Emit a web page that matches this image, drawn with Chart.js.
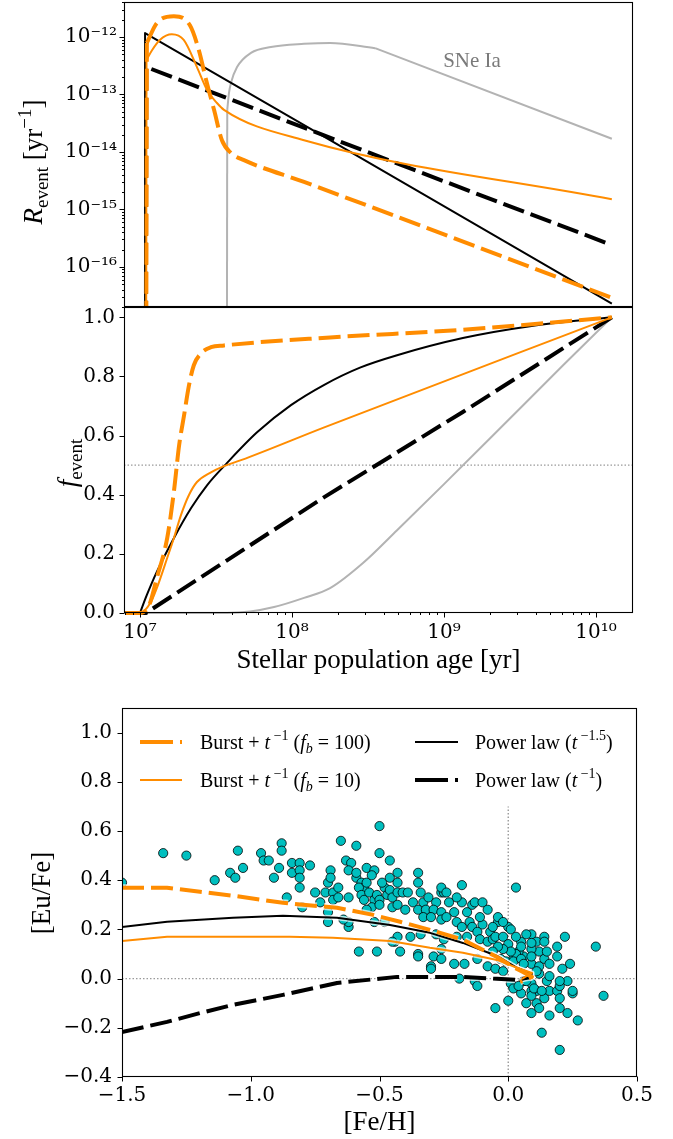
<!DOCTYPE html>
<html><head><meta charset="utf-8">
<script src="https://cdn.jsdelivr.net/npm/chart.js@4/dist/chart.umd.min.js"></script>
<style>
html,body{margin:0;padding:0;background:#fff;}
#wrap{position:relative;width:673px;height:1139px;overflow:hidden;background:#fff;}
canvas{position:absolute;left:0;}
</style></head><body>
<div id="wrap">
<canvas id="c1" width="673" height="310" style="top:0px"></canvas>
<canvas id="c2" width="673" height="380" style="top:300px"></canvas>
<canvas id="c3" width="673" height="449" style="top:690px"></canvas>
</div>
<script>
// ---------- Panel 1: event rate vs stellar population age ----------
const ageB100Top  = [1.095e7, 1.11e7, 1.29e7, 1.67e7, 2.13e7, 2.44e7, 2.72e7, 3.07e7, 3.46e7, 3.97e7, 4.83e7, 1.2e8, 1.27e10];
const rateB100Top = [1e-20, 7.9e-13, 1.75e-12, 2.3e-12, 1.6e-12, 5.9e-13, 1.8e-13, 5.4e-14, 1.6e-14, 9.6e-15, 7.2e-15, 3.0e-15, 2.9e-17];
const ageB10Top   = [1.095e7, 1.104e7, 1.2e7, 1.35e7, 1.62e7, 1.94e7, 2.37e7, 2.76e7, 3.21e7, 3.57e7, 1.2e8, 1.27e10];
const rateB10Top  = [1e-20, 4.0e-13, 5.9e-13, 8.9e-13, 1.12e-12, 8.9e-13, 3.0e-13, 1.2e-13, 7.1e-14, 5.4e-14, 1.6e-14, 1.5e-15];
const ageP15Top   = [1.079e7, 1.08e7, 1.78e8, 1.27e10];
const rateP15Top  = [1e-20, 1.17e-12, 1.6e-14, 2.3e-17];
const ageP1Top    = [1.09e7, 1.1e7, 4.91e8, 1.27e10];
const rateP1Top   = [1e-20, 3.0e-13, 6.3e-15, 2.4e-16];
const ageSNTop    = [3.72e7, 3.75e7, 3.85e7, 3.97e7, 4.35e7, 5.37e7, 7.27e7, 1.2e8, 1.78e8, 3.52e8, 1.27e10];
const rateSNTop   = [1e-20, 5.4e-14, 1.07e-13, 1.6e-13, 3.0e-13, 5.3e-13, 6.7e-13, 7.6e-13, 7.9e-13, 6.4e-13, 1.7e-14];
const topYTicks   = [1e-16, 1e-15, 1e-14, 1e-13, 1e-12];
const topYLabels  = ['10⁻¹⁶', '10⁻¹⁵', '10⁻¹⁴', '10⁻¹³', '10⁻¹²'];

// ---------- Panel 2: cumulative fraction ----------
const ageB100Mid = [8e6, 1.0e7, 1.15e7, 1.29e7, 1.51e7, 1.67e7, 1.81e7, 1.95e7, 2.10e7, 2.26e7, 2.52e7, 2.93e7, 3.57e7, 1.78e8, 1.33e9, 1.27e10];
const fB100      = [0, 0, 0.027, 0.118, 0.253, 0.409, 0.568, 0.669, 0.770, 0.838, 0.878, 0.899, 0.905, 0.932, 0.958, 1.0];
const ageB10Mid  = [8e6, 1.0e7, 1.18e7, 1.29e7, 1.51e7, 1.67e7, 1.86e7, 2.10e7, 2.37e7, 2.93e7, 3.57e7, 4.62e7, 1.63e8, 1.27e10];
const fB10       = [0, 0, 0.037, 0.084, 0.186, 0.253, 0.331, 0.399, 0.443, 0.476, 0.497, 0.517, 0.628, 1.0];
const ageP15Mid  = [8e6, 1.0e7, 1.11e7, 1.29e7, 1.67e7, 2.17e7, 2.76e7, 3.73e7, 5.89e7, 9.84e7, 1.63e8, 2.80e8, 4.91e8, 1.33e9, 3.68e9, 1.27e10];
const fP15       = [0, 0, 0.061, 0.139, 0.253, 0.355, 0.432, 0.507, 0.611, 0.703, 0.772, 0.830, 0.872, 0.930, 0.970, 1.0];
const ageP1Mid   = [8e6, 1.0e7, 1.094e7, 1.63e8, 1.33e9, 1.27e10];
const fP1        = [0, 0, 0, 0.392, 0.68, 1.0];
const ageSNMid   = [8e6, 3.73e7, 5.3e7, 7.62e7, 1.2e8, 1.78e8, 2.93e8, 4.91e8, 1.0e9, 2.01e9, 6.07e9, 1.27e10];
const fSN        = [0, 0, 0.005, 0.020, 0.051, 0.084, 0.169, 0.280, 0.436, 0.591, 0.838, 1.0];
const halfLineAge = [7.85e6, 1.75e10];
const halfLineF   = [0.5, 0.5];
const midXTicks  = [1e7, 1e8, 1e9, 1e10];
const midXLabels = ['10⁷', '10⁸', '10⁹', '10¹⁰'];
const midYTicks  = [0, 0.2, 0.4, 0.6, 0.8, 1.0];
const midYLabels = ['0.0', '0.2', '0.4', '0.6', '0.8', '1.0'];

// ---------- Panel 3: [Eu/Fe] vs [Fe/H] ----------
const fehB100 = [-1.5, -1.325, -1.197, -1.069, -0.875, -0.665, -0.525, -0.420, -0.304, -0.176, -0.044, 0.018, 0.057, 0.092, 0.046];
const euB100  = [0.369, 0.369, 0.353, 0.337, 0.308, 0.288, 0.259, 0.231, 0.198, 0.158, 0.088, 0.048, 0.027, 0.007, -0.013];
const fehB10  = [-1.5, -1.325, -1.069, -0.848, -0.681, -0.459, -0.304, -0.176, -0.044, 0.034, 0.092, 0.053];
const euB10   = [0.153, 0.170, 0.170, 0.170, 0.166, 0.153, 0.125, 0.105, 0.076, 0.044, 0.023, -0.001];
const fehP15  = [-1.5, -1.325, -1.069, -0.875, -0.665, -0.459, -0.304, -0.176, -0.044, 0.034, 0.092, 0.053];
const euP15   = [0.210, 0.231, 0.247, 0.255, 0.247, 0.218, 0.186, 0.145, 0.092, 0.044, 0.019, -0.005];
const fehP1   = [-1.5, -1.325, -1.197, -1.069, -0.875, -0.665, -0.432, -0.176, -0.044, 0.034, 0.092];
const euP1    = [-0.217, -0.176, -0.140, -0.107, -0.066, -0.018, 0.007, 0.007, -0.001, -0.005, 0.007];
const starFeH = [-1.50,-1.34,-1.25,-1.14,-1.08,-1.06,-1.05,-1.03,-0.96,-0.95,-0.93,-0.91,-0.89,-0.88,-0.88,-0.86,-0.84,-0.84,-0.81,-0.81,
  -0.81,-0.81,-0.80,-0.77,-0.75,-0.73,-0.71,-0.70,-0.70,-0.70,-0.69,-0.69,-0.68,-0.68,-0.66,-0.66,-0.65,-0.63,-0.61,-0.62,
  -0.59,-0.59,-0.57,-0.56,-0.55,-0.52,-0.50,-0.50,-0.46,-0.43,-0.62,-0.58,-0.57,-0.56,-0.54,-0.52,-0.51,-0.50,-0.48,-0.47,
  -0.46,-0.45,-0.43,-0.53,-0.50,-0.45,-0.43,-0.52,-0.48,-0.55,-0.62,-0.62,-0.58,-0.51,-0.44,-0.43,-0.64,-0.35,-0.35,-0.34,
  -0.41,-0.39,-0.37,-0.33,-0.31,-0.28,-0.26,-0.25,-0.23,-0.18,-0.18,-0.14,-0.16,-0.40,-0.35,-0.32,-0.29,-0.26,-0.21,-0.33,
  -0.30,-0.26,-0.24,-0.20,-0.18,-0.15,-0.14,-0.10,-0.07,-0.04,-0.12,-0.20,-0.16,-0.11,-0.08,-0.06,-0.38,-0.34,-0.28,-0.25,
  -0.45,-0.35,-0.29,-0.26,-0.26,-0.30,-0.21,-0.17,-0.12,-0.08,-0.19,-0.13,-0.12,-0.05,-0.13,-0.30,-0.35,-0.42,0.00,0.03,
  0.09,0.14,0.22,0.34,0.37,0.19,0.19,0.24,0.21,0.23,0.25,0.23,0.27,0.20,0.13,0.16,0.09,0.00,0.07,0.11,
  0.12,0.15,0.12,0.14,0.16,0.09,0.06,0.09,0.05,0.07,0.04,0.02,0.01,0.02,0.05,0.09,0.11,0.14,0.16,0.19,
  0.20,0.09,0.06,-0.06,-0.05,-0.02,0.00,0.11,0.14,0.15,0.12,0.09,0.03,0.01,-0.02,-0.04,-0.06,-0.03,-0.01,0.02,
  0.05,0.06,-0.05,-0.02,0.11,0.16,0.20,0.04,0.07,0.09,0.10,0.13,0.20,0.25,0.12,0.20,-0.11,
  -0.59,-0.55,-0.49,-0.46,-0.43,-0.53,-0.26,-0.24,-0.20,-0.10,-0.08,-0.04,-0.02,0.01,0.03,0.05,0.09];
const starEuFe = [0.39,0.51,0.50,0.40,0.43,0.41,0.52,0.45,0.51,0.48,0.48,0.41,0.45,0.55,0.52,0.33,0.47,0.43,0.47,0.44,
  0.41,0.37,0.29,0.46,0.35,0.31,0.35,0.23,0.27,0.39,0.44,0.41,0.35,0.32,0.37,0.33,0.56,0.48,0.47,0.44,
  0.41,0.54,0.39,0.37,0.45,0.44,0.51,0.62,0.48,0.43,0.33,0.37,0.34,0.32,0.35,0.32,0.34,0.32,0.37,0.34,
  0.36,0.33,0.35,0.29,0.30,0.29,0.30,0.23,0.23,0.28,0.21,0.23,0.11,0.11,0.15,0.17,0.24,0.43,0.39,0.35,
  0.35,0.35,0.31,0.31,0.33,0.31,0.35,0.35,0.31,0.31,0.38,0.30,0.27,0.28,0.28,0.28,0.28,0.27,0.27,0.25,
  0.25,0.24,0.25,0.23,0.21,0.23,0.21,0.22,0.19,0.23,0.19,0.17,0.17,0.16,0.15,0.16,0.17,0.18,0.18,0.16,
  0.15,0.10,0.09,0.08,0.12,0.05,0.06,0.06,0.08,0.05,0.00,-0.01,-0.03,-0.12,0.31,0.04,0.09,0.11,0.21,0.37,
  0.18,0.17,0.17,0.13,-0.07,0.13,0.09,0.06,0.04,-0.01,-0.06,-0.14,-0.17,-0.29,-0.22,-0.15,-0.14,-0.09,-0.10,-0.05,
  0.02,-0.01,0.11,0.08,0.06,0.06,0.09,0.12,0.15,0.18,0.11,0.08,-0.02,-0.04,-0.06,-0.05,-0.10,-0.08,-0.05,-0.05,
  -0.03,-0.02,-0.01,0.21,0.17,0.17,0.14,0.15,0.15,0.11,0.05,0.09,0.10,0.11,0.12,0.13,0.11,0.08,0.07,0.07,
  0.08,0.06,0.04,0.03,0.03,0.01,-0.01,-0.03,-0.01,-0.07,-0.04,-0.05,-0.08,-0.05,-0.12,-0.12,0.25,
  0.43,0.39,0.39,0.41,0.39,0.42,0.37,0.35,0.33,0.31,0.28,0.25,0.23,0.20,0.17,0.13,0.145];
const vLineFeH = [0, 0];   const vLineEu = [-0.4, 0.7];
const hLineFeH = [-1.5, 0.5]; const hLineEu = [0, 0];
const botXTicks  = [-1.5, -1.0, -0.5, 0.0, 0.5];
const botXLabels = ['−1.5', '−1.0', '−0.5', '0.0', '0.5'];
const botYTicks  = [-0.4, -0.2, 0.0, 0.2, 0.4, 0.6, 0.8, 1.0];
const botYLabels = ['−0.4', '−0.2', '0.0', '0.2', '0.4', '0.6', '0.8', '1.0'];

// ---------- styling / helpers ----------
const ORANGE = '#ff8c00', GRAY = '#b3b3b3', TEAL = '#00bfbf', DOT = '#9a9a9a';
const SERIF = '"Liberation Serif", "Times New Roman", serif';
const TICKFONT = {family: '"DejaVu Serif"', size: 20};
const DASH = [22, 7];
const F = (size, style) => (style ? style + ' ' : '') + size + 'px ' + SERIF;
const xy = (xs, ys) => xs.map((x, i) => ({x: x, y: ys[i]}));

function line(data, color, width, dash, order, mono, clip) {
  return {data: data, borderColor: color, backgroundColor: color, borderWidth: width, borderDash: dash || [],
    pointRadius: 0, fill: false, order: order, tension: 0, clip: clip === undefined ? 0 : clip,
    cubicInterpolationMode: mono ? 'monotone' : 'default', borderCapStyle: 'butt', borderJoinStyle: 'round'};
}
// a series drawn as a straight start piece, a smooth middle, and (optionally) a straight tail from index `tail`
function splitLine(xs, ys, color, width, dash, order, clip, tail) {
  const end = tail === undefined ? xs.length : tail + 1;
  const out = [line(xy(xs.slice(0, 2), ys.slice(0, 2)), color, width, dash, order, false, clip),
               line(xy(xs.slice(1, end), ys.slice(1, end)), color, width, dash, order, true, clip)];
  if (tail !== undefined) out.push(line(xy(xs.slice(tail), ys.slice(tail)), color, width, dash, order, false, clip));
  return out;
}
function rich(ctx, parts, x, y, rot, align, color) {
  ctx.save();
  ctx.translate(x, y);
  if (rot) ctx.rotate(rot);
  ctx.fillStyle = color || '#000';
  ctx.textBaseline = 'alphabetic';
  ctx.textAlign = 'left';
  let w = 0;
  const ws = parts.map(p => { ctx.font = p[1]; const m = ctx.measureText(p[0]).width; w += m; return m; });
  let cx = align === 'left' ? 0 : -w / 2;
  parts.forEach((p, i) => { ctx.font = p[1]; ctx.fillText(p[0], cx, p[2] || 0); cx += ws[i]; });
  ctx.restore();
}
function frame(chart) {
  const a = chart.chartArea, ctx = chart.ctx;
  ctx.save();
  ctx.strokeStyle = '#000'; ctx.lineWidth = 1.1;
  ctx.strokeRect(Math.round(a.left) + 0.5, Math.round(a.top) + 0.5, Math.round(a.right - a.left) - 1, Math.round(a.bottom - a.top) - 1);
  ctx.restore();
}
function yMarks(chart, vals, len) {
  const s = chart.scales.y, ctx = chart.ctx, x0 = Math.round(chart.chartArea.left) + 0.5;
  ctx.save(); ctx.strokeStyle = '#000'; ctx.lineWidth = 1;
  vals.forEach(v => { if (v < s.min || v > s.max) return; const p = Math.round(s.getPixelForValue(v)) + 0.5;
    ctx.beginPath(); ctx.moveTo(x0 - len, p); ctx.lineTo(x0, p); ctx.stroke(); });
  ctx.restore();
}
function xMarks(chart, vals, len) {
  const s = chart.scales.x, ctx = chart.ctx, y0 = Math.round(chart.chartArea.bottom) - 0.5;
  ctx.save(); ctx.strokeStyle = '#000'; ctx.lineWidth = 1;
  vals.forEach(v => { if (v < s.min || v > s.max) return; const p = Math.round(s.getPixelForValue(v)) + 0.5;
    ctx.beginPath(); ctx.moveTo(p, y0); ctx.lineTo(p, y0 + len); ctx.stroke(); });
  ctx.restore();
}
function logMinors(lo, hi) {
  const out = [];
  for (let e = lo; e <= hi; e++) for (let m = 2; m <= 9; m++) out.push(m * Math.pow(10, e));
  return out;
}
const base = () => ({responsive: false, animation: false, events: [], devicePixelRatio: 1,
  plugins: {legend: {display: false}, tooltip: {enabled: false}}});
const tickOpts = (labels, pad) => ({autoSkip: false, maxRotation: 0, minRotation: 0, padding: pad, color: '#000', font: TICKFONT,
  callback: (v, i) => labels[i]});

// ---------- Chart 1 ----------
new Chart(document.getElementById('c1'), {
  type: 'line',
  data: {datasets: [].concat(
    splitLine(ageB100Top, rateB100Top, ORANGE, 4, DASH, 1),
    splitLine(ageB10Top, rateB10Top, ORANGE, 2, [], 2),
    [line(xy(ageP15Top, rateP15Top), '#000', 2, [], 3, false),
     line(xy(ageP1Top, rateP1Top), '#000', 4, DASH, 4, false)],
    splitLine(ageSNTop, rateSNTop, GRAY, 2, [], 5, 0, 9)
  )},
  options: Object.assign(base(), {
    layout: {padding: {left: 0, top: 2, right: 40, bottom: 3}},
    scales: {
      x: {type: 'logarithmic', min: 7.85e6, max: 1.75e10, bounds: 'data', display: false},
      y: {type: 'logarithmic', min: 2.0e-17, max: 4.07e-12, bounds: 'data',
        grid: {display: false, drawTicks: false}, border: {display: false},
        afterBuildTicks: s => { s.ticks = topYTicks.map(v => ({value: v})); },
        afterFit: s => { s.width = 124; s.paddingTop = 0; s.paddingBottom = 0; },
        ticks: tickOpts(topYLabels, 7)}
    }
  }),
  plugins: [{id: 'p1', afterDraw(chart) {
    const ctx = chart.ctx;
    frame(chart);
    yMarks(chart, topYTicks, 5);
    yMarks(chart, logMinors(-17, -12), 2.5);
    rich(ctx, [['R', F(27, 'italic')], ['event', F(19), 6], [' [yr', F(27)], ['−1', F(19), -11], [']', F(27)]], 42, 162, -Math.PI / 2);
    rich(ctx, [['SNe Ia', F(21)]], 472, 67, 0, 'center', '#7a7a7a');
  }}]
});

// ---------- Chart 2 ----------
new Chart(document.getElementById('c2'), {
  type: 'line',
  data: {datasets: [].concat(
    [line(xy(ageB100Mid, fB100), ORANGE, 4, DASH, 1, true, 2),
     line(xy(ageB10Mid, fB10), ORANGE, 2, [], 2, true, 2)],
    splitLine(ageP15Mid, fP15, '#000', 2, [], 3, 2),
    [line(xy(ageP1Mid, fP1), '#000', 4, DASH, 4, false, 2),
     line(xy(ageSNMid, fSN), GRAY, 2, [], 5, true, 2),
     line(xy(halfLineAge, halfLineF), DOT, 1.4, [1.5, 2], 9, false)]
  )},
  options: Object.assign(base(), {
    layout: {padding: {left: 0, top: 7, right: 40, bottom: 0}},
    scales: {
      x: {type: 'logarithmic', min: 7.85e6, max: 1.75e10, bounds: 'data',
        grid: {display: false, drawTicks: false}, border: {display: false},
        afterBuildTicks: s => { s.ticks = midXTicks.map(v => ({value: v})); },
        afterFit: s => { s.height = 67; s.paddingLeft = 0; s.paddingRight = 0; },
        ticks: tickOpts(midXLabels, 8)},
      y: {type: 'linear', min: 0, max: 1.035,
        grid: {display: false, drawTicks: false}, border: {display: false},
        afterBuildTicks: s => { s.ticks = midYTicks.map(v => ({value: v})); },
        afterFit: s => { s.width = 124; s.paddingTop = 0; s.paddingBottom = 0; },
        ticks: tickOpts(midYLabels, 9)}
    }
  }),
  plugins: [{id: 'p2', afterDraw(chart) {
    const ctx = chart.ctx;
    frame(chart);
    yMarks(chart, midYTicks, 5);
    xMarks(chart, midXTicks, 5);
    xMarks(chart, logMinors(6, 10), 2.5);
    rich(ctx, [['f', F(27, 'italic')], ['event', F(19), 6]], 76, 163, -Math.PI / 2);
    rich(ctx, [['Stellar population age [yr]', F(27)]], 378.5, 368, 0);
  }}]
});

// ---------- Chart 3 ----------
const HALO = 'rgba(255,255,255,0.7)';
new Chart(document.getElementById('c3'), {
  type: 'line',
  data: {datasets: [
    line(xy(fehB100, euB100), ORANGE, 4, DASH, 1, false),
    line(xy(fehB10, euB10), ORANGE, 2, [], 2, false),
    line(xy(fehP15, euP15), '#000', 2, [], 3, false),
    line(xy(fehP1, euP1), '#000', 4, DASH, 4, false),
    line(xy(fehB100, euB100), HALO, 7, DASH, 11, false),
    line(xy(fehB10, euB10), HALO, 5, [], 12, false),
    line(xy(fehP15, euP15), HALO, 5, [], 13, false),
    line(xy(fehP1, euP1), HALO, 7, DASH, 14, false),
    {data: xy(starFeH, starEuFe), showLine: false, pointRadius: 4.6, pointBackgroundColor: TEAL,
      pointBorderColor: '#000', pointBorderWidth: 0.8, order: 50, clip: 0, borderWidth: 0},
    line(xy(vLineFeH, vLineEu), DOT, 1.4, [1.5, 2], 90, false),
    line(xy(hLineFeH, hLineEu), DOT, 1.4, [1.5, 2], 91, false)
  ]},
  options: Object.assign(base(), {
    layout: {padding: {left: 0, top: 18, right: 36, bottom: 0}},
    scales: {
      x: {type: 'linear', min: -1.5, max: 0.5,
        grid: {display: false, drawTicks: false}, border: {display: false},
        afterBuildTicks: s => { s.ticks = botXTicks.map(v => ({value: v})); },
        afterFit: s => { s.height = 62; s.paddingLeft = 0; s.paddingRight = 0; },
        ticks: tickOpts(botXLabels, 7)},
      y: {type: 'linear', min: -0.4, max: 1.1,
        grid: {display: false, drawTicks: false}, border: {display: false},
        afterBuildTicks: s => { s.ticks = botYTicks.map(v => ({value: v})); },
        afterFit: s => { s.width = 122; s.paddingTop = 0; s.paddingBottom = 0; },
        ticks: tickOpts(botYLabels, 10)}
    }
  }),
  plugins: [{id: 'p3', afterDraw(chart) {
    const ctx = chart.ctx;
    frame(chart);
    yMarks(chart, botYTicks, 5);
    xMarks(chart, botXTicks, 5);
    const seg = (x1, x2, y, color, w, dash) => { ctx.save(); ctx.strokeStyle = color; ctx.lineWidth = w; ctx.setLineDash(dash);
      ctx.beginPath(); ctx.moveTo(x1, y); ctx.lineTo(x2, y); ctx.stroke(); ctx.restore(); };
    seg(140, 182, 52, ORANGE, 4, [33, 7]);
    seg(140, 182, 90, ORANGE, 2, []);
    seg(415, 458, 52, '#000', 2, []);
    seg(415, 458, 90, '#000', 4, [33, 7]);
    rich(ctx, [['Burst + ', F(20)], ['t', F(20, 'italic')], [' −1', F(14), -9], [' (', F(20)], ['f', F(20, 'italic')], ['b', F(14, 'italic'), 4], [' = 100)', F(20)]], 200, 59, 0, 'left');
    rich(ctx, [['Burst + ', F(20)], ['t', F(20, 'italic')], [' −1', F(14), -9], [' (', F(20)], ['f', F(20, 'italic')], ['b', F(14, 'italic'), 4], [' = 10)', F(20)]], 200, 97, 0, 'left');
    rich(ctx, [['Power law (', F(20)], ['t', F(20, 'italic')], [' −1.5', F(14), -9], [')', F(20)]], 475, 59, 0, 'left');
    rich(ctx, [['Power law (', F(20)], ['t', F(20, 'italic')], [' −1', F(14), -9], [')', F(20)]], 475, 97, 0, 'left');
    rich(ctx, [['[Eu/Fe]', F(27)]], 50, 203, -Math.PI / 2);
    rich(ctx, [['[Fe/H]', F(27)]], 379.5, 440, 0);
  }}]
});
</script>
</body></html>
